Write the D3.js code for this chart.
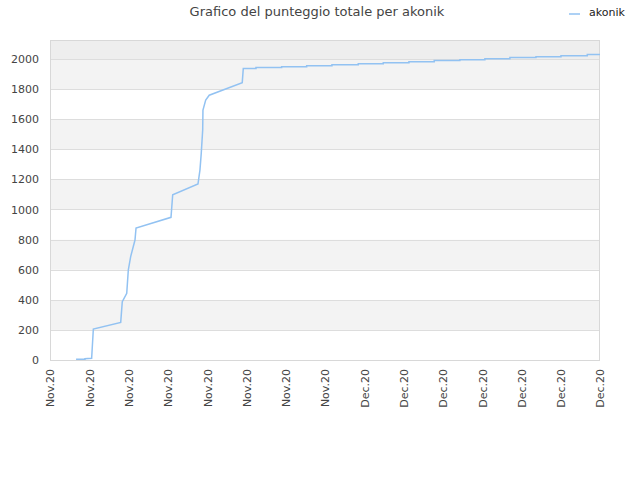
<!DOCTYPE html>
<html>
<head>
<meta charset="utf-8">
<script src="https://cdn.jsdelivr.net/npm/d3@7"></script>
<style>
  body { margin: 0; background: #fff; }
  text { font-family: "DejaVu Sans", sans-serif; }
</style>
</head>
<body>
<script>
// titolo e serie
var titolo = "Grafico del punteggio totale per akonik";
var nomeSerie = "akonik";

// giorni dal 9 nov 2020, con il punteggio
var giorniSalita = [1.99, 2.67, 2.67, 3.18, 3.31, 5.40, 5.52, 5.86, 5.98, 6.16, 6.49, 6.57, 9.24, 9.37, 11.30, 11.45, 11.55, 11.66, 11.68, 11.89, 12.16, 14.68, 14.76];
var puntiSalita  = [5, 5, 9, 12, 206, 250, 387, 443, 598, 687, 797, 877, 948, 1098, 1169, 1262, 1373, 1528, 1661, 1727, 1759, 1843, 1936];

// gradini finali
var giorniGradini = [15.73, 17.69, 19.60, 21.53, 23.54, 25.45, 27.41, 29.34, 31.30, 33.21, 35.12, 37.11, 39.02, 41.03];
var puntiGradini  = [1943, 1949, 1955, 1962, 1969, 1975, 1982, 1989, 1995, 2002, 2009, 2015, 2022, 2029];
var giornoFine = 42;

var yTicks = [0, 200, 400, 600, 800, 1000, 1200, 1400, 1600, 1800, 2000];
var yMax = 2126;

var inizio = new Date(2020, 10, 9);
var aData = function(g) { return new Date(inizio.getTime() + g * 864e5); };

var W = 640, H = 480;
var m = { left: 50, right: 40, top: 40, bottom: 120 };

var svg = d3.select("body").append("svg").attr("width", W).attr("height", H);

var x = d3.scaleTime()
  .domain([aData(0), aData(giornoFine)])
  .range([m.left, W - m.right]);
var y = d3.scaleLinear()
  .domain([0, yMax])
  .range([H - m.bottom, m.top]);

// bande alternate
var bande = yTicks.map(function(t, i) {
  return { da: t, a: i + 1 < yTicks.length ? yTicks[i + 1] : yMax, i: i };
});
svg.selectAll("rect.banda").data(bande).enter().append("rect")
  .attr("x", m.left)
  .attr("width", W - m.right - m.left)
  .attr("y", function(d) { return y(d.a); })
  .attr("height", function(d) { return y(d.da) - y(d.a); })
  .attr("fill", function(d) {
    if (d.a === yMax) return "#eeeeee";
    return d.i % 2 ? "#f3f3f3" : "#ffffff";
  });

// griglia
svg.selectAll("line.griglia").data(yTicks).enter().append("line")
  .attr("x1", m.left).attr("x2", W - m.right)
  .attr("y1", function(d) { return Math.round(y(d)) + 0.5; })
  .attr("y2", function(d) { return Math.round(y(d)) + 0.5; })
  .attr("stroke", "#dddddd");

svg.append("rect")
  .attr("x", m.left + 0.5).attr("y", m.top + 0.5)
  .attr("width", W - m.right - m.left - 1)
  .attr("height", H - m.bottom - m.top)
  .attr("fill", "none").attr("stroke", "#d8d8d8");

// assi
var asseY = d3.axisLeft(y).tickValues(yTicks).tickFormat(d3.format("d")).tickSize(0).tickPadding(11);
svg.append("g").attr("transform", "translate(" + m.left + ",0)").call(asseY)
  .call(function(g) { g.select(".domain").remove(); })
  .selectAll("text").attr("fill", "#444").style("font-size", "11px");

var fmt = d3.timeFormat("%b.%y");
var xTicks = d3.range(0, giornoFine + 1, 3).map(aData);
var asseX = d3.axisBottom(x).tickValues(xTicks).tickFormat(fmt).tickSize(0);
svg.append("g").attr("transform", "translate(0," + (H - m.bottom) + ")").call(asseX)
  .call(function(g) { g.select(".domain").remove(); })
  .selectAll("text")
  .attr("fill", "#444").style("font-size", "11px")
  .attr("transform", "rotate(-90)")
  .attr("text-anchor", "end")
  .attr("x", -9).attr("y", 0).attr("dy", "0.35em");

// serie
var punti = giorniSalita.map(function(g, i) { return [aData(g), puntiSalita[i]]; });
var prec = puntiSalita[puntiSalita.length - 1];
giorniGradini.forEach(function(g, i) {
  punti.push([aData(g), prec]);
  punti.push([aData(g), puntiGradini[i]]);
  prec = puntiGradini[i];
});
punti.push([aData(giornoFine), prec]);

var linea = d3.line()
  .x(function(d) { return x(d[0]); })
  .y(function(d) { return y(d[1]); });

svg.append("path").datum(punti)
  .attr("d", linea)
  .attr("fill", "none")
  .attr("stroke", "#92c2f2")
  .attr("stroke-width", 1.5);

// titolo
svg.append("text")
  .attr("x", 317).attr("y", 16)
  .attr("text-anchor", "middle")
  .attr("fill", "#444")
  .style("font-size", "13px")
  .text(titolo);

// legenda
svg.append("line")
  .attr("x1", 569).attr("x2", 580).attr("y1", 14).attr("y2", 14)
  .attr("stroke", "#92c2f2").attr("stroke-width", 1.5);
svg.append("text")
  .attr("x", 589).attr("y", 16)
  .attr("fill", "#222")
  .style("font-size", "11px")
  .text(nomeSerie);
</script>
</body>
</html>
